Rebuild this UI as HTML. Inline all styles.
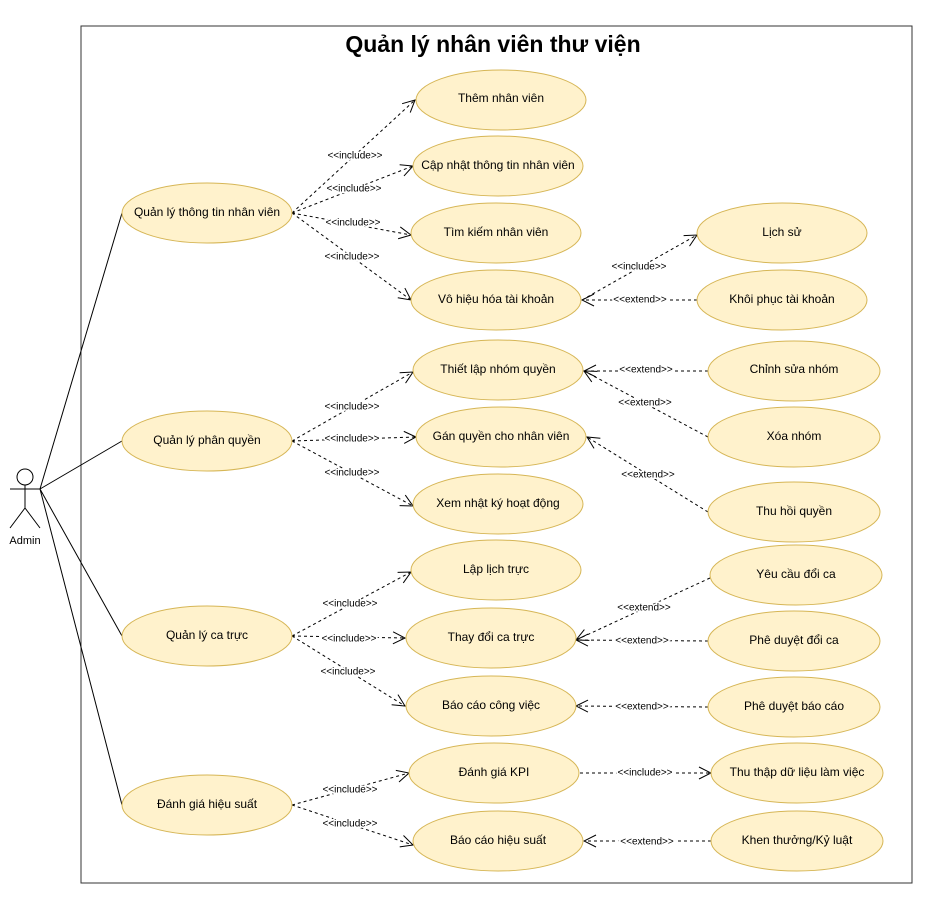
<!DOCTYPE html>
<html><head><meta charset="utf-8"><style>
html,body{margin:0;padding:0;background:#fff;}
svg{display:block;font-family:"Liberation Sans",Arial,sans-serif;}
.uc{fill:#fff2cc;stroke:#d6b656;stroke-width:1;}
.t{font-size:12px;text-anchor:middle;dominant-baseline:middle;fill:#000;}
.l{font-size:10px;text-anchor:middle;dominant-baseline:middle;fill:#000;stroke:#fff;stroke-width:3px;paint-order:stroke;}
.d{stroke:#000;stroke-width:1;stroke-dasharray:3,3;fill:none;marker-end:url(#a);}
.s{stroke:#000;stroke-width:1;fill:none;}
</style></head><body>
<svg width="947" height="899" viewBox="0 0 947 899" xmlns="http://www.w3.org/2000/svg">
<defs><marker id="a" markerWidth="14" markerHeight="14" refX="13" refY="7" orient="auto" markerUnits="userSpaceOnUse"><path d="M1,1 L13,7 L1,13" fill="none" stroke="#000" stroke-width="1"/></marker></defs>
<rect x="81" y="26" width="831" height="857" fill="#fff" stroke="#333" stroke-width="1"/>
<text x="493" y="46" style="font-size:23px;font-weight:bold" text-anchor="middle" dominant-baseline="middle">Quản lý nhân viên thư viện</text>
<circle cx="25" cy="477" r="8" fill="#fff" stroke="#000"/>
<path class="s" d="M25,485 V508 M10,489 H40 M25,508 L10,528 M25,508 L40,528"/>
<text x="25" y="541" class="t" style="font-size:11px">Admin</text>
<path class="s" d="M40,489 L122,213 M40,489 L122,441 M40,489 L122,636 M40,489 L122,805"/>
<path class="d" d="M292,213 L415,100"/>
<path class="d" d="M292,213 L413,166"/>
<path class="d" d="M292,213 L411,235"/>
<path class="d" d="M292,213 L411,300"/>
<path class="d" d="M292,441 L413,372"/>
<path class="d" d="M292,441 L416,437"/>
<path class="d" d="M292,441 L413,506"/>
<path class="d" d="M292,636 L411,572"/>
<path class="d" d="M292,636 L405,638"/>
<path class="d" d="M292,636 L405,706"/>
<path class="d" d="M292,805 L409,773"/>
<path class="d" d="M292,805 L413,845"/>
<path class="d" d="M582,300 L697,235"/>
<path class="d" d="M697,300 L582,300"/>
<path class="d" d="M708,371 L584,371"/>
<path class="d" d="M708,437 L584,371"/>
<path class="d" d="M708,512 L587,437"/>
<path class="d" d="M710,578 L576,640"/>
<path class="d" d="M708,641 L576,640"/>
<path class="d" d="M708,707 L576,706"/>
<path class="d" d="M580,773 L711,773"/>
<path class="d" d="M711,841 L584,841"/>
<g>
<text class="l" x="355" y="156">&lt;&lt;include&gt;&gt;</text>
<text class="l" x="354" y="189">&lt;&lt;include&gt;&gt;</text>
<text class="l" x="353" y="223">&lt;&lt;include&gt;&gt;</text>
<text class="l" x="352" y="257">&lt;&lt;include&gt;&gt;</text>
<text class="l" x="352" y="407">&lt;&lt;include&gt;&gt;</text>
<text class="l" x="352" y="439">&lt;&lt;include&gt;&gt;</text>
<text class="l" x="352" y="473">&lt;&lt;include&gt;&gt;</text>
<text class="l" x="350" y="604">&lt;&lt;include&gt;&gt;</text>
<text class="l" x="349" y="639">&lt;&lt;include&gt;&gt;</text>
<text class="l" x="348" y="672">&lt;&lt;include&gt;&gt;</text>
<text class="l" x="350" y="790">&lt;&lt;include&gt;&gt;</text>
<text class="l" x="350" y="824">&lt;&lt;include&gt;&gt;</text>
<text class="l" x="639" y="267">&lt;&lt;include&gt;&gt;</text>
<text class="l" x="640" y="300">&lt;&lt;extend&gt;&gt;</text>
<text class="l" x="646" y="370">&lt;&lt;extend&gt;&gt;</text>
<text class="l" x="645" y="403">&lt;&lt;extend&gt;&gt;</text>
<text class="l" x="648" y="475">&lt;&lt;extend&gt;&gt;</text>
<text class="l" x="644" y="608">&lt;&lt;extend&gt;&gt;</text>
<text class="l" x="642" y="641">&lt;&lt;extend&gt;&gt;</text>
<text class="l" x="642" y="707">&lt;&lt;extend&gt;&gt;</text>
<text class="l" x="645" y="773">&lt;&lt;include&gt;&gt;</text>
<text class="l" x="647" y="842">&lt;&lt;extend&gt;&gt;</text>
</g>
<ellipse class="uc" cx="207" cy="213" rx="85" ry="30"/><text class="t" x="207" y="213">Quản lý thông tin nhân viên</text>
<ellipse class="uc" cx="207" cy="441" rx="85" ry="30"/><text class="t" x="207" y="441">Quản lý phân quyền</text>
<ellipse class="uc" cx="207" cy="636" rx="85" ry="30"/><text class="t" x="207" y="636">Quản lý ca trực</text>
<ellipse class="uc" cx="207" cy="805" rx="85" ry="30"/><text class="t" x="207" y="805">Đánh giá hiệu suất</text>
<ellipse class="uc" cx="501" cy="100" rx="85" ry="30"/><text class="t" x="501" y="99">Thêm nhân viên</text>
<ellipse class="uc" cx="498" cy="166" rx="85" ry="30"/><text class="t" x="498" y="166">Cập nhật thông tin nhân viên</text>
<ellipse class="uc" cx="496" cy="233" rx="85" ry="30"/><text class="t" x="496" y="233">Tìm kiếm nhân viên</text>
<ellipse class="uc" cx="496" cy="300" rx="85" ry="30"/><text class="t" x="496" y="300">Vô hiệu hóa tài khoản</text>
<ellipse class="uc" cx="498" cy="370" rx="85" ry="30"/><text class="t" x="498" y="370">Thiết lập nhóm quyền</text>
<ellipse class="uc" cx="501" cy="437" rx="85" ry="30"/><text class="t" x="501" y="437">Gán quyền cho nhân viên</text>
<ellipse class="uc" cx="498" cy="504" rx="85" ry="30"/><text class="t" x="498" y="504">Xem nhật ký hoạt động</text>
<ellipse class="uc" cx="496" cy="570" rx="85" ry="30"/><text class="t" x="496" y="570">Lập lịch trực</text>
<ellipse class="uc" cx="491" cy="638" rx="85" ry="30"/><text class="t" x="491" y="638">Thay đổi ca trực</text>
<ellipse class="uc" cx="491" cy="706" rx="85" ry="30"/><text class="t" x="491" y="706">Báo cáo công việc</text>
<ellipse class="uc" cx="494" cy="773" rx="85" ry="30"/><text class="t" x="494" y="773">Đánh giá KPI</text>
<ellipse class="uc" cx="498" cy="841" rx="85" ry="30"/><text class="t" x="498" y="841">Báo cáo hiệu suất</text>
<ellipse class="uc" cx="782" cy="233" rx="85" ry="30"/><text class="t" x="782" y="233">Lịch sử</text>
<ellipse class="uc" cx="782" cy="300" rx="85" ry="30"/><text class="t" x="782" y="300">Khôi phục tài khoản</text>
<ellipse class="uc" cx="794" cy="371" rx="86" ry="30"/><text class="t" x="794" y="370">Chỉnh sửa nhóm</text>
<ellipse class="uc" cx="794" cy="437" rx="86" ry="30"/><text class="t" x="794" y="437">Xóa nhóm</text>
<ellipse class="uc" cx="794" cy="512" rx="86" ry="30"/><text class="t" x="794" y="512">Thu hồi quyền</text>
<ellipse class="uc" cx="796" cy="575" rx="86" ry="30"/><text class="t" x="796" y="575">Yêu cầu đổi ca</text>
<ellipse class="uc" cx="794" cy="641" rx="86" ry="30"/><text class="t" x="794" y="641">Phê duyệt đổi ca</text>
<ellipse class="uc" cx="794" cy="707" rx="86" ry="30"/><text class="t" x="794" y="707">Phê duyệt báo cáo</text>
<ellipse class="uc" cx="797" cy="773" rx="86" ry="30"/><text class="t" x="797" y="773">Thu thập dữ liệu làm việc</text>
<ellipse class="uc" cx="797" cy="841" rx="86" ry="30"/><text class="t" x="797" y="841">Khen thưởng/Kỷ luật</text>
</svg>
</body></html>
